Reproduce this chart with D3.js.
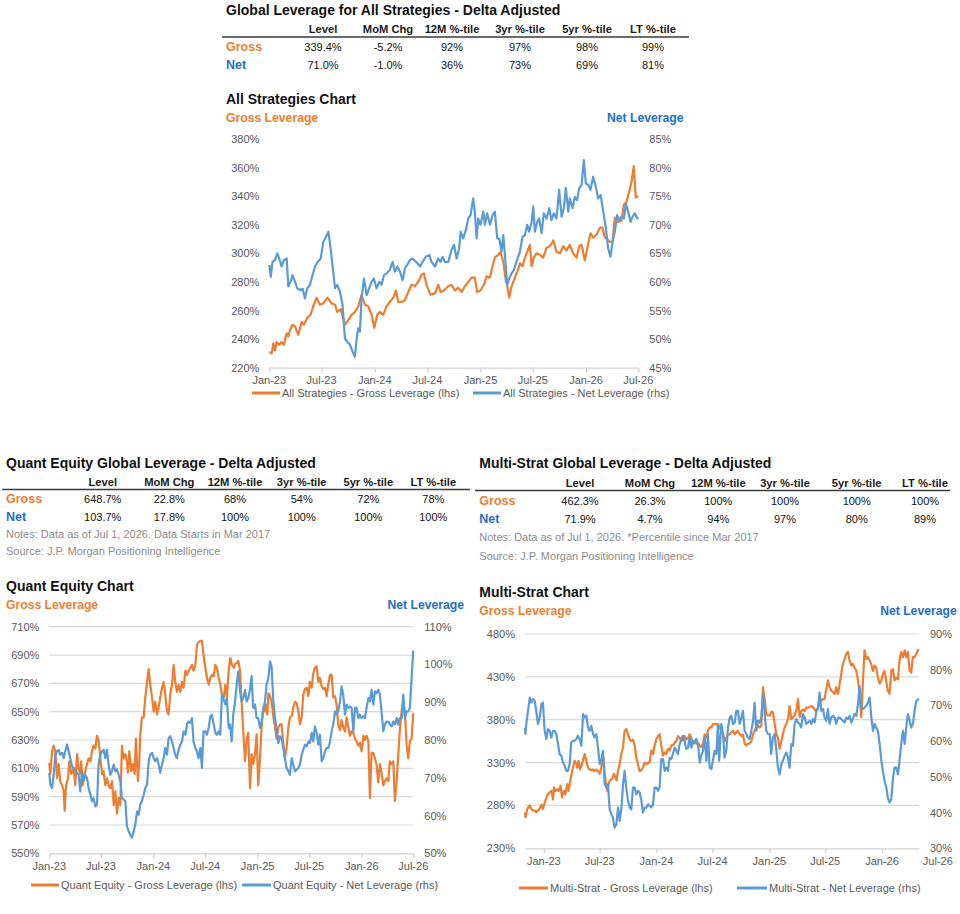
<!DOCTYPE html>
<html><head><meta charset="utf-8">
<script src="https://cdn.jsdelivr.net/npm/d3@7"></script>
<style>body{margin:0;background:#fff;} svg{display:block;font-family:"Liberation Sans",Arial,sans-serif;}</style>
</head><body><svg id="c" width="960" height="914"></svg>
<script>
const ORANGE="#ED7D31", BLUE="#5B9BD5", ORANGE_T="#ED7D31", BLUE_T="#1F70C1", GRAY="#595959";

// ---------- table data ----------
const tableHeaders=["Level","MoM Chg","12M %-tile","3yr %-tile","5yr %-tile","LT %-tile"];
const rowLabels=["Gross","Net"];
const allGrossRow=["339.4%","-5.2%","92%","97%","98%","99%"];
const allNetRow=["71.0%","-1.0%","36%","73%","69%","81%"];
const quantGrossRow=["648.7%","22.8%","68%","54%","72%","78%"];
const quantNetRow=["103.7%","17.8%","100%","100%","100%","100%"];
const multiGrossRow=["462.3%","26.3%","100%","100%","100%","100%"];
const multiNetRow=["71.9%","4.7%","94%","97%","80%","89%"];

// ---------- axis tick values ----------
const allLeftTicks=[220,240,260,280,300,320,340,360,380];
const allRightTicks=[45,50,55,60,65,70,75,80,85];
const quantLeftTicks=[550,570,590,610,630,650,670,690,710];
const quantRightTicks=[50,60,70,80,90,100,110];
const multiLeftTicks=[230,280,330,380,430,480];
const multiRightTicks=[30,40,50,60,70,80,90];
const xLabels=["Jan-23","Jul-23","Jan-24","Jul-24","Jan-25","Jul-25","Jan-26","Jul-26"];

// ---------- series: [weeks since series start, value %] ----------
const allGross=[[0,231],[1.2,230],[2,237],[2.8,232],[3.6,238],[4.9,236],[6.1,238],[7.2,236],[8.6,244],[9.4,242],[10.2,246],[11.5,250],[12.7,249],[14.3,243],[16,252],[17.1,250],[18.8,255],[20.4,257],[21.7,263],[23.4,269],[25,264],[26.7,265],[28.7,269],[30.8,265],[32.5,264],[33.6,259],[35.3,261],[37.4,250],[39,253],[40.7,257],[42.3,259],[44,263],[45.6,271],[47.3,264],[48.9,263],[50.6,257],[51.9,248],[53.4,257],[54.7,259],[56.3,257],[58,263],[59.6,266],[61.3,269],[62.6,274],[63.8,266],[65.4,266],[67,267],[68.7,273],[70.3,278],[72,277],[73.6,280],[75.3,285],[76.4,286],[77.7,278],[79.7,271],[81.9,272],[83.5,278],[84.7,273],[86.3,274],[88.5,277],[90.1,278],[91.8,274],[93.4,276],[95.1,273],[96.7,277],[98.4,280],[100,283],[101.6,283],[102.8,273],[104.4,274],[106.1,278],[107.4,284],[109,283],[110.4,291],[111.5,297],[113.2,299],[114.3,301],[115.7,294],[117,280],[117.6,278],[118.6,269],[119.8,277],[121.4,283],[122.6,287],[123.9,293],[125.2,291],[126.4,297],[127.5,301],[128.8,306],[129.7,291],[130.8,297],[132.1,300],[133.8,299],[135.4,297],[137.1,304],[138.7,305],[140.4,309],[142,301],[143.7,300],[145.3,305],[147,302],[148.6,306],[150.2,300],[151.9,297],[153.2,305],[154.4,306],[156,295],[157.7,307],[158.8,314],[160.1,311],[161.8,313],[163.4,318],[164.7,318],[165.9,311],[167,310],[168.4,308],[169.7,308],[170.8,325],[172.5,322],[174.1,323],[175.3,334],[176.6,336],[177.9,343],[179.1,350],[180.2,361],[181.2,339],[182.4,340]];
const allNet=[[0,63.0],[0.7,60.9],[1.6,63.5],[2.8,63.8],[4,65.0],[4.9,64.1],[6.1,62.7],[7.2,63.8],[8.6,64.1],[9.4,59.2],[10.5,60.0],[11.5,61.2],[12.7,60.0],[13.8,58.9],[15.2,58.6],[16.5,58.8],[17.6,57.1],[18.8,58.9],[20.1,59.5],[21.4,61.2],[22.6,62.7],[23.7,63.4],[25.4,64.1],[26.7,67.0],[28,67.9],[29.2,68.8],[30.3,65.9],[31.6,61.8],[32.5,58.9],[33.6,59.5],[34.9,58.3],[36.2,56.0],[37.4,50.1],[38.6,49.5],[39.9,49.0],[41.2,47.8],[42.3,46.9],[43.2,50.1],[44,51.9],[44.8,51.3],[45.6,57.1],[46.8,60.6],[48.1,57.7],[49.4,58.9],[50.6,60.0],[51.7,60.6],[53,58.9],[54.4,60.0],[55.5,59.5],[56.7,61.2],[58,61.5],[59.6,62.1],[61,63.5],[62.1,61.8],[63.3,62.7],[64.6,61.8],[65.9,60.3],[67.1,62.4],[68.2,63.0],[69.5,63.8],[70.8,64.1],[72,63.7],[73.1,63.3],[74.5,62.7],[75.8,63.5],[77.4,64.4],[79.1,64.7],[80.2,63.5],[81.9,62.7],[83.5,64.1],[84.7,63.5],[85.7,64.4],[86.8,63.5],[88.5,63.5],[90.1,65.6],[91.3,66.5],[92.6,64.1],[93.9,65.9],[94.6,68.8],[95.9,67.6],[97.2,69.1],[98.4,71.1],[99.5,71.7],[100.8,74.6],[101.6,72.3],[102.5,67.6],[103.3,71.1],[104.4,70.0],[105.8,72.3],[106.6,70.0],[107.7,72.0],[109.1,70.0],[110.4,71.7],[111.5,72.3],[112.7,67.6],[113.7,67.6],[114.8,65.3],[115.7,68.2],[116.5,64.7],[117.6,59.5],[118.6,60.6],[119.8,61.5],[120.9,62.1],[122.2,63.5],[123.9,65.3],[125.2,67.9],[126.4,68.2],[127.5,70.0],[128.5,68.8],[129.7,70.5],[130.5,73.2],[131.3,68.8],[132.5,70.5],[133.4,71.1],[134.6,68.5],[135.7,72.0],[137.1,71.1],[138.4,72.9],[139.5,70.8],[140.7,72.0],[142,71.1],[143.3,76.1],[144.5,71.4],[145.6,72.9],[146.6,76.4],[147.8,72.3],[148.6,74.6],[149.9,72.9],[151.1,74.9],[152.2,74.3],[153.2,76.4],[154.4,77.0],[155.5,81.3],[156.5,77.2],[157.7,77.0],[158.8,76.1],[160.1,78.4],[161.4,76.7],[162.6,74.6],[163.8,75.2],[165.1,72.3],[166.4,69.4],[167.5,65.9],[168.7,64.4],[169.7,67.0],[170.8,68.8],[172,71.7],[173,70.8],[174.1,71.4],[175.3,71.1],[176.3,73.7],[177.4,72.3],[178.6,70.5],[179.6,71.4],[180.7,72.0],[181.5,71.4],[182.4,71.0]];

const quantGross=[[0,614],[0.5,606],[1.4,622],[2.2,626],[3,622],[3.9,603],[4.7,613],[5.5,601],[6.4,598],[7.2,594],[7.7,580],[8.4,598],[9.4,603],[10,615],[11,606],[12.2,610],[13,598],[13.9,620],[14.7,610],[15.5,606],[16,615],[16.7,598],[17.7,606],[18.9,613],[19.7,617],[20.6,615],[21.4,622],[22.2,626],[23.1,624],[23.9,633],[24.7,630],[25.6,617],[26.4,606],[27.2,608],[28.1,598],[28.9,603],[29.7,598],[30.6,596],[31.4,601],[32.3,584],[33.1,594],[33.9,578],[34.8,589],[35.6,584],[36.4,626],[37.3,617],[38.1,620],[38.9,615],[39.4,607],[40.1,622],[41.1,608],[41.8,613],[42.8,606],[43.4,631],[44.4,601],[45.1,615],[45.6,634],[46.4,646],[47.3,646],[48.1,660],[49,671],[49.8,680],[50.6,669],[51.5,660],[52.3,650],[53.1,657],[54,648],[54.8,653],[55.6,660],[56.5,667],[57.3,671],[58.1,662],[59,650],[59.8,648],[60.6,662],[61.5,669],[62.3,683],[63.1,671],[64,664],[64.8,669],[65.7,664],[66.5,671],[67.3,667],[68.2,679],[69,676],[69.8,679],[70.7,681],[71.5,683],[72.3,679],[73.2,683],[74,697],[74.8,699],[75.7,700],[76.5,700],[77.3,690],[78.2,681],[79,674],[79.9,669],[80.7,674],[81.5,676],[82.4,675],[83.2,683],[84,681],[84.9,674],[85.7,669],[86.5,662],[87.4,660],[88.2,669],[89,660],[89.9,679],[90.7,688],[91.6,683],[92.4,681],[93.2,684],[93.9,684],[94.7,686],[95.6,679],[96.4,657],[97.2,636],[98.1,615],[98.9,631],[99.7,635],[100.6,596],[101.4,620],[102.2,613],[103.1,620],[103.9,634],[104.7,598],[105.6,617],[106.4,639],[107.3,653],[108.1,650],[108.6,655],[109.3,648],[109.8,663],[110.6,661],[111.4,657],[112.3,646],[113.1,639],[113.9,631],[114.8,639],[115.6,641],[116.4,641],[117.3,627],[118.1,617],[118.9,624],[119.8,639],[120.6,646],[121.5,647],[122.3,653],[123.1,657],[124,656],[124.8,650],[125.6,641],[126.5,646],[127.3,662],[128.1,666],[129,667],[129.8,661],[130.6,671],[131.5,667],[132.3,677],[133.1,681],[134,682],[134.8,671],[135.6,674],[136.5,668],[137.3,666],[138.2,667],[139,661],[139.8,669],[140.7,676],[141.5,676],[142.3,660],[143.2,661],[144,655],[144.8,641],[145.7,637],[146.5,644],[147.3,639],[148.2,636],[149,646],[149.9,639],[150.7,633],[151.5,636],[152.4,635],[153.2,631],[154,629],[154.9,626],[155.7,628],[156.5,622],[157.4,633],[158.2,630],[159,633],[159.9,629],[160.7,589],[161.5,621],[162.4,621],[163.2,617],[164,613],[164.9,600],[165.7,613],[166.5,607],[167.4,598],[168.2,601],[169.1,603],[169.9,601],[170.7,615],[171.6,613],[172.4,615],[173.2,587],[174.1,601],[174.9,620],[175.7,637],[176.6,651],[177.4,657],[178.2,650],[179.1,626],[179.9,617],[180.7,629],[181.6,631],[182.4,649]];
const quantNet=[[0,71.3],[0.5,68.2],[1.4,67.3],[2.2,70.8],[3,76.1],[3.9,77],[4.7,77.4],[5.5,76.1],[6.4,76.6],[7.2,75.2],[8,77],[8.9,78.8],[9.7,77],[10.5,75.2],[11.4,73],[12.2,72.6],[13,72.2],[13.9,71.3],[14.7,70.8],[15.5,66.4],[16.4,71.7],[17.2,69.1],[18,70.8],[18.9,69.9],[19.7,67.3],[20.6,65.5],[21.4,63.8],[22.2,64.6],[23.1,62.4],[23.9,62.9],[24.7,73.5],[25.6,76.1],[26.4,77],[27.2,77.4],[28.1,75.2],[28.9,77.4],[29.7,73.5],[30.6,70.8],[31.4,71.7],[32.3,73.5],[33.1,71.7],[33.9,72.2],[34.8,70.8],[35.6,69.1],[36.4,64.6],[37.3,64.2],[38.1,63.8],[38.9,57.1],[39.8,55.8],[40.6,54.9],[41.4,54.1],[42.3,55.8],[43.1,57.6],[44,61.1],[44.8,60.2],[45.6,62.9],[46.4,63.8],[47.3,65.5],[48.1,67.3],[49,68.2],[49.8,74.4],[50.6,76.1],[51.5,76.6],[52.3,75.2],[53.1,74.4],[54,75.2],[54.8,73.5],[55.6,71.3],[56.5,73.5],[57.3,75.2],[58.1,77.9],[59,76.1],[59.8,80.5],[60.6,81],[61.5,79.6],[62.3,77.9],[63.1,76.1],[64,75.2],[64.8,77.4],[65.7,78.8],[66.5,79.6],[67.3,82.3],[68.2,81.4],[69,84.1],[69.8,84.9],[70.7,84.5],[71.5,85.8],[72.3,79.6],[73.2,77.9],[74,77],[74.8,75.2],[75.7,77.9],[76.5,72.6],[77.3,82.3],[78.2,82.3],[79,81.4],[79.9,83.2],[80.7,86.3],[81.5,86.7],[82.4,84.1],[83.2,81.9],[84,81.4],[84.9,82.3],[85.7,81.4],[86.5,92],[87.4,90.7],[88.2,89.4],[89,91.1],[89.9,83.2],[90.6,84.1],[91.4,79.6],[92.2,86.7],[93.1,90.2],[93.9,94.7],[94.7,98.2],[95.6,92.9],[96.4,90.2],[97.2,91.1],[98.1,93.3],[98.9,90.2],[99.7,91.1],[100.6,93.3],[101.4,96.9],[102.2,88.5],[103.1,89.4],[103.9,85.8],[104.7,85.8],[105.6,83.2],[106.4,84.9],[107.3,88.5],[108.1,90.2],[108.9,94.7],[109.8,96.4],[110.6,100.8],[111.4,99.5],[112.3,90.2],[113.1,85.8],[113.9,83.2],[114.8,79.2],[115.6,81],[116.4,80.5],[117.3,77.9],[118.1,75.2],[118.9,72.6],[119.8,71.7],[120.6,70.8],[121.5,75.2],[122.3,73.5],[123.1,71.7],[124,72.2],[124.8,72.6],[125.6,73.5],[126.5,76.1],[127.3,77.4],[128.1,78.8],[129,78.3],[129.8,79.6],[130.6,79.2],[131.5,81.9],[132.3,79.6],[133.1,83.6],[134,81.9],[134.8,78.8],[135.6,81.4],[136.5,74.4],[137.3,75.2],[138.2,77],[139,77.9],[139.8,77.9],[140.7,79.6],[141.5,82.3],[142.3,84.1],[143.2,87.6],[144,86.7],[144.8,87.6],[145.7,90.2],[146.5,94.2],[147.3,92],[148.2,86.7],[149,89.4],[149.9,88.5],[150.7,88.9],[151.5,88.5],[152.4,82.3],[153.2,88.5],[154,88.5],[154.9,85.8],[155.7,86.7],[156.5,85.8],[157.4,86.3],[158.2,85.8],[159,88.5],[159.9,91.1],[160.7,90.2],[161.5,93.3],[162.4,89.4],[163.2,92.9],[164,92.4],[164.9,93.3],[165.7,92],[166.5,87.6],[167.4,82.3],[168.2,84.1],[169.1,84.9],[169.9,84.9],[170.7,84.1],[171.6,83.6],[172.4,84.9],[173.2,84.1],[174.1,85.8],[174.9,84.1],[175.7,85.8],[176.6,85.8],[177.4,92],[178.2,85.8],[179.1,87.6],[179.9,87.6],[180.7,88.5],[181.6,96.4],[182.4,103.7]];

const multiGross=[[0,272],[0.2,266],[1.1,276],[2.2,280],[2.9,276],[3.7,274],[4.5,274],[5.2,272],[6,274],[6.8,276],[7.6,281],[8.3,276],[9.1,283],[9.9,289],[10.6,293],[11.4,295],[12.2,297],[13,287],[13.4,301],[14,297],[15,299],[15.6,297],[16.5,303],[17.1,289],[18.1,297],[18.7,293],[19.6,305],[20.2,297],[21.1,311],[22.2,324],[23,332],[23.8,328],[24.2,324],[24.8,332],[25.5,322],[26.1,326],[26.8,332],[27.6,340],[28.4,332],[29.2,324],[29.9,322],[30.7,321],[31.5,322],[32.2,320],[33,322],[33.8,320],[34.6,317],[35,320],[35.6,328],[36.3,336],[36.9,317],[37.5,305],[38.1,297],[38.7,305],[39.3,309],[40.3,311],[41.2,317],[41.8,313],[42.4,309],[43,320],[43.8,328],[44.6,340],[45.4,348],[46.1,367],[46.9,369],[47.7,363],[48.5,357],[49.2,355],[50,357],[50.8,350],[51.5,336],[52.3,328],[53.1,320],[53.9,321],[54.6,324],[55.4,330],[56.2,328],[57,330],[57.7,330],[58.5,344],[59.3,340],[60,350],[60.8,357],[61.6,361],[62.3,363],[63.1,350],[63.9,338],[64.7,342],[65.4,340],[66.2,346],[67,344],[67.7,350],[68.5,350],[69.3,353],[70.1,355],[70.8,361],[71.6,359],[72.4,355],[73.1,357],[73.9,361],[74.7,357],[75.5,359],[76.2,363],[77,359],[77.8,352],[78.5,353],[79.3,352],[80.1,353],[80.9,350],[81.6,348],[82.4,352],[83.2,363],[84,359],[84.7,367],[85.5,371],[86.3,371],[87,375],[87.8,375],[88.6,375],[89.4,375],[90.1,371],[90.9,367],[91.7,363],[92.4,355],[93.2,359],[94,363],[94.8,363],[95.5,365],[96.3,367],[97.1,363],[97.8,365],[98.6,367],[99.4,363],[100.2,361],[100.9,363],[101.7,352],[102.5,350],[103.2,352],[104,352],[104.8,355],[105.6,363],[106.3,367],[107.1,371],[107.9,373],[108.6,371],[109.4,373],[110.2,418],[111,404],[111.7,387],[112.5,385],[113.3,385],[114,389],[114.8,389],[115.6,375],[116.4,363],[117.1,359],[117.9,346],[118.7,355],[119.4,363],[120.2,371],[121,375],[121.8,381],[122.5,396],[123.3,381],[124.1,383],[124.8,385],[125.6,390],[126.4,404],[127.2,383],[127.9,390],[128.7,392],[129.5,390],[130.2,394],[131,394],[131.8,395],[132.6,396],[133.3,395],[134.1,392],[134.9,390],[135.6,394],[136.4,400],[137.2,402],[138,404],[138.7,404],[139.5,416],[140.3,426],[141,418],[141.8,414],[142.6,412],[143.4,410],[144.1,418],[144.9,410],[145.7,422],[146.4,433],[147.2,445],[148,451],[148.8,457],[149.5,459],[150.3,449],[151.1,443],[151.8,445],[152.6,441],[153.4,437],[154.2,426],[154.9,410],[155.7,383],[156.5,426],[157.2,461],[158,451],[158.8,453],[159.6,449],[160.3,445],[161.1,437],[161.9,443],[162.6,441],[163.4,429],[164.2,422],[165,426],[165.7,433],[166.5,437],[167.3,424],[168,414],[168.8,410],[169.6,437],[170.4,439],[171.1,426],[171.9,429],[172.7,427],[173.4,449],[174.2,459],[175,453],[175.8,461],[176.5,453],[177.3,459],[178.1,437],[178.8,435],[179.6,453],[180.4,453],[181.2,457],[181.9,461],[182.4,462.3]];
const multiNet=[[0,63.8],[0.2,62],[0.6,64.8],[1.4,68.5],[2.2,72.2],[2.9,70.8],[3.7,71.8],[4.5,71.3],[5.2,68.5],[6,64.8],[6.8,66.6],[7.6,70.4],[8.3,70.8],[9.1,62.9],[9.9,60.6],[10.6,63.4],[11.4,62.9],[12.2,61],[13,62.9],[13.7,62.9],[14.5,62],[15.3,59.2],[16,56.4],[16.8,55.9],[17.6,54],[18.4,53.1],[19.1,51.7],[19.9,51.7],[20.7,53.6],[21.4,59.6],[22.2,60.1],[23,60.1],[23.8,60.6],[24.5,61.5],[25.3,60.6],[26.1,58.7],[26.9,67.6],[27.6,66.6],[28.4,67.1],[29.2,63.8],[29.9,62.9],[30.7,64.3],[31.5,62],[32.2,61],[33,62],[33.8,58.2],[34.6,53.6],[35.3,54.5],[36.1,57.3],[36.9,47.9],[37.7,47],[38.4,47.9],[39.2,40.9],[40,39.5],[40.7,38.6],[41.5,35.8],[42.3,36.7],[43.1,41.4],[43.8,37.7],[44.6,40.9],[45.4,47.9],[46.1,51.7],[46.9,47],[47.7,43.3],[48.5,41.4],[49.2,40.9],[50,47],[50.8,47],[51.5,45.1],[52.3,46.1],[53.1,45.6],[53.9,43.3],[54.6,40],[55.4,41.4],[56.2,41.4],[57,42.3],[57.7,41.9],[58.5,41.4],[59.3,42.3],[60,47],[60.8,47],[61.6,46.1],[62.3,47],[63.1,55],[63.9,55],[64.7,51.7],[65.4,52.6],[66.2,51.7],[67,55.4],[67.7,55],[68.5,56.4],[69.3,58.2],[70.1,57.3],[70.8,56.4],[71.6,59.2],[72.4,60.6],[73.1,61.5],[73.9,60.1],[74.7,57.8],[75.5,58.2],[76.2,61],[77,58.2],[77.8,60.1],[78.5,59.6],[79.3,60.6],[80.1,59.2],[80.9,54],[81.6,55.9],[82.4,57.3],[83.2,61],[84,54.5],[84.7,62],[85.5,52.6],[86.3,52.2],[87,54.5],[87.8,57.3],[88.6,56.4],[89.3,64.3],[89.9,54.5],[90.5,61],[90.9,64.8],[91.7,62],[92.4,55.4],[93.2,57.3],[94,63.8],[94.8,66.6],[95.5,67.1],[96.3,64.8],[97.1,65.2],[97.8,68.5],[98.6,68.5],[99.4,64.8],[100.2,66.6],[100.9,68.5],[101.7,62.9],[102.5,62],[103.2,61],[104,60.6],[104.8,62.9],[105.6,65.7],[106.3,70.8],[107.1,62.9],[107.9,65.7],[108.6,65.2],[109.4,66.6],[110.2,73.2],[111,67.6],[111.7,62.9],[112.5,62],[113.3,62],[114,56.4],[114.8,61],[115.6,62],[116.4,57.3],[117.1,52.6],[117.9,50.7],[118.7,53.6],[119.4,54.5],[120.2,55.9],[121,56.8],[121.8,55.4],[122.5,52.6],[123.3,59.2],[124.1,58.7],[124.8,64.8],[125.6,66.2],[126.4,65.2],[127.2,64.8],[127.9,63.8],[128.7,67.6],[129.5,66.6],[130.2,64.8],[131,65.2],[131.8,65.7],[132.6,64.8],[133.3,66.2],[134.1,65.2],[134.9,68.5],[135.6,69],[136.4,73.6],[137.2,68.5],[138,69],[138.7,66.6],[139.5,65.7],[140.3,69],[141,64.8],[141.8,66.6],[142.6,67.1],[143.4,66.6],[144.1,64.8],[144.9,66.6],[145.7,66.6],[146.4,66.2],[147.2,65.7],[148,65.2],[148.8,66.6],[149.5,66.2],[150.3,67.1],[151.1,65.2],[151.8,66.2],[152.6,67.6],[153.4,67.1],[154.2,70.4],[154.9,75.5],[155.7,69.4],[156.5,69],[157.2,69.4],[158,69.9],[158.8,70.8],[159.6,72.2],[160.3,67.1],[161.1,62.9],[161.9,64.8],[162.6,63.8],[163.4,62.9],[164.2,59.2],[165,54.5],[165.7,51.7],[166.5,48.9],[167.3,47],[168,44.2],[168.8,42.8],[169.6,43.7],[170.4,49.8],[171.1,52.6],[171.9,52.6],[172.7,50.7],[173.4,54.5],[174.2,59.2],[175,62.9],[175.8,59.2],[176.5,63.8],[177.3,67.6],[178.1,65.7],[178.8,63.8],[179.6,64.8],[180.4,68.5],[181.2,71.3],[182.4,71.9]];

const svg=d3.select("#c");
svg.append("rect").attr("width",960).attr("height",914).attr("fill","#fff");

function drawTable(t){
  const g=svg.append("g");
  g.append("text").attr("x",t.x).attr("y",t.titleY).attr("font-size",14).attr("font-weight","bold").attr("fill","#111").text(t.title);
  tableHeaders.forEach((h,i)=>g.append("text").attr("x",t.cols[i]).attr("y",t.headY).attr("text-anchor","middle")
    .attr("font-size",11.2).attr("font-weight","bold").attr("fill","#1a1a1a").text(h));
  g.append("line").attr("x1",t.lx0).attr("x2",t.lx1).attr("y1",t.lineY).attr("y2",t.lineY).attr("stroke","#3a3a3a").attr("stroke-width",1.3);
  [t.gross,t.net].forEach((row,r)=>{
    const y=t.rowY[r];
    g.append("text").attr("x",t.x).attr("y",y).attr("font-size",12.5).attr("font-weight","bold")
      .attr("fill",r===0?ORANGE_T:BLUE_T).text(rowLabels[r]);
    row.forEach((v,i)=>g.append("text").attr("x",t.cols[i]).attr("y",y).attr("text-anchor","middle")
      .attr("font-size",11).attr("fill","#111").text(v));
  });
  (t.notes||[]).forEach((n,i)=>g.append("text").attr("x",t.x).attr("y",t.notesY[i]).attr("font-size",11).attr("fill","#8c8c8c").text(n));
}

function drawChart(c){
  const g=svg.append("g");
  const x=d3.scaleTime().domain([c.start,c.end]).range([c.x0,c.x1]);
  const yL=d3.scaleLinear().domain([c.leftTicks[0],c.leftTicks[c.leftTicks.length-1]]).range([c.y1,c.y0]);
  const yR=d3.scaleLinear().domain([c.rightTicks[0],c.rightTicks[c.rightTicks.length-1]]).range([c.y1,c.y0]);
  const toDate=w=>new Date(c.start.getTime()+w*7*864e5);

  g.append("text").attr("x",c.tx).attr("y",c.titleY).attr("font-size",14).attr("font-weight","bold").attr("fill","#111").text(c.title);
  g.append("text").attr("x",c.tx).attr("y",c.subY).attr("font-size",12.2).attr("font-weight","bold").attr("fill",ORANGE_T).text("Gross Leverage");
  g.append("text").attr("x",c.netX).attr("y",c.subY).attr("text-anchor","end").attr("font-size",12.2).attr("font-weight","bold").attr("fill",BLUE_T).text("Net Leverage");

  if(c.grid){
    g.append("g").selectAll("line").data(c.leftTicks.slice(1)).join("line")
      .attr("x1",c.x0).attr("x2",c.x1).attr("y1",d=>yL(d)).attr("y2",d=>yL(d))
      .attr("stroke","#d9d9d9").attr("stroke-width",1.2);
  }
  const la=g.append("g").attr("transform",`translate(${c.x0},0)`)
    .call(d3.axisLeft(yL).tickValues(c.leftTicks).tickSize(0).tickPadding(10).tickFormat(d=>d+"%"));
  const ra=g.append("g").attr("transform",`translate(${c.x1},0)`)
    .call(d3.axisRight(yR).tickValues(c.rightTicks).tickSize(0).tickPadding(11).tickFormat(d=>d+"%"));
  [la,ra].forEach(a=>{a.select(".domain").remove();a.selectAll("text").attr("font-size",11).attr("fill",GRAY).attr("font-family",null);});

  // x axis
  const xa=g.append("g").attr("transform",`translate(0,${c.y1})`)
    .call(d3.axisBottom(x).tickValues(c.tickDates).tickSize(5).tickSizeOuter(0).tickFormat(""));
  xa.select(".domain").attr("stroke","#d0d0d0").attr("stroke-width",1.2);
  xa.selectAll(".tick line").attr("stroke","#d0d0d0").attr("stroke-width",1.2);
  g.append("g").selectAll("text").data(c.labelDates).join("text")
    .attr("x",d=>x(d)).attr("y",c.y1+16.7).attr("text-anchor","middle").attr("font-size",11).attr("fill",GRAY)
    .text((d,i)=>xLabels[i]);

  const lineL=d3.line().x(d=>x(toDate(d[0]))).y(d=>yL(d[1]));
  const lineR=d3.line().x(d=>x(toDate(d[0]))).y(d=>yR(d[1]));
  g.append("path").attr("d",lineL(c.gross)).attr("fill","none").attr("stroke",ORANGE).attr("stroke-width",2.2).attr("stroke-linejoin","round");
  g.append("path").attr("d",lineR(c.net)).attr("fill","none").attr("stroke",BLUE).attr("stroke-width",2.2).attr("stroke-linejoin","round");

  // legend
  const L=c.legend;
  [[L.o0,L.o1,ORANGE,c.grossName],[L.b0,L.b1,BLUE,c.netName]].forEach(([a,b,col,name])=>{
    g.append("line").attr("x1",a).attr("x2",b).attr("y1",L.y-4).attr("y2",L.y-4).attr("stroke",col).attr("stroke-width",3);
    g.append("text").attr("x",b+2).attr("y",L.y).attr("font-size",11).attr("fill",GRAY).text(name);
  });
}

const jan23=new Date(2023,0,1), jul26=new Date(2026,6,1);
const stdLabelDates=d3.timeMonth.every(6).range(jan23,new Date(2026,6,2));
const msStart=new Date(2022,10,1), msEnd=new Date(2026,4,1);
const msTickDates=d3.timeMonth.every(6).range(msStart,new Date(2026,4,2));

drawTable({x:226,title:"Global Leverage for All Strategies - Delta Adjusted",titleY:15,headY:33,cols:[323,388,452,520,587,653],
  lx0:222,lx1:689,lineY:37,rowY:[51,69],gross:allGrossRow,net:allNetRow});
drawTable({x:6,title:"Quant Equity Global Leverage - Delta Adjusted",titleY:468,headY:486,cols:[102.7,169.3,235,301.7,368.3,433.3],
  lx0:2,lx1:470,lineY:489.5,rowY:[503,521],gross:quantGrossRow,net:quantNetRow,
  notes:["Notes: Data as of Jul 1, 2026. Data Starts in Mar 2017","Source: J.P. Morgan Positioning Intelligence"],notesY:[538,555]});
drawTable({x:479.3,title:"Multi-Strat Global Leverage - Delta Adjusted",titleY:468,headY:487,cols:[580,650,718.3,785,856.7,925],
  lx0:475,lx1:950,lineY:490.5,rowY:[505,523],gross:multiGrossRow,net:multiNetRow,
  notes:["Notes: Data as of Jul 1, 2026. *Percentile since Mar 2017","Source: J.P. Morgan Positioning Intelligence"],notesY:[541,560]});

drawChart({title:"All Strategies Chart",tx:226,titleY:104,subY:122,netX:683.5,
  x0:269.3,x1:638.3,y0:139,y1:367.7,start:jan23,end:jul26,grid:false,
  leftTicks:allLeftTicks,rightTicks:allRightTicks,tickDates:stdLabelDates,labelDates:stdLabelDates,
  gross:allGross,net:allNet,grossName:"All Strategies - Gross Leverage (lhs)",netName:"All Strategies - Net Leverage (rhs)",
  legend:{y:397,o0:252,o1:280,b0:473,b1:501}});
drawChart({title:"Quant Equity Chart",tx:6,titleY:591,subY:608.5,netX:464,
  x0:49.3,x1:413.3,y0:626.7,y1:853.3,start:jan23,end:jul26,grid:true,
  leftTicks:quantLeftTicks,rightTicks:quantRightTicks,tickDates:stdLabelDates,labelDates:stdLabelDates,
  gross:quantGross,net:quantNet,grossName:"Quant Equity - Gross Leverage (lhs)",netName:"Quant Equity - Net Leverage (rhs)",
  legend:{y:889,o0:31,o1:59,b0:242,b1:271}});
drawChart({title:"Multi-Strat Chart",tx:479.3,titleY:596.5,subY:614.5,netX:956.7,
  x0:525,x1:919,y0:634,y1:848.3,start:msStart,end:msEnd,grid:true,
  leftTicks:multiLeftTicks,rightTicks:multiRightTicks,tickDates:msTickDates,labelDates:stdLabelDates,
  gross:multiGross,net:multiNet,grossName:"Multi-Strat - Gross Leverage (lhs)",netName:"Multi-Strat - Net Leverage (rhs)",
  legend:{y:892,o0:519,o1:548,b0:737,b1:767}});
</script></body></html>
